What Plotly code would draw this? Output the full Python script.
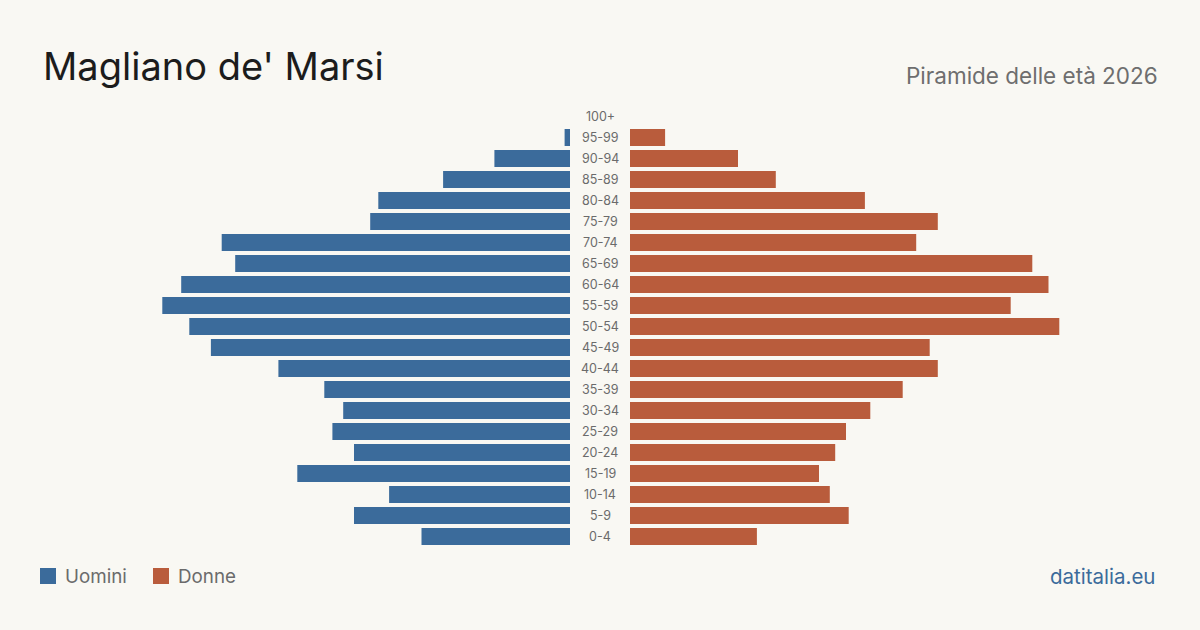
import plotly.graph_objects as go

# Data
age_groups = ["0-4", "5-9", "10-14", "15-19", "20-24", "25-29", "30-34", "35-39",
              "40-44", "45-49", "50-54", "55-59", "60-64", "65-69", "70-74",
              "75-79", "80-84", "85-89", "90-94", "95-99", "100+"]
uomini = [55, 80, 67, 101, 80, 88, 84, 91, 108, 133, 141, 151, 144, 124, 129,
          74, 71, 47, 28, 2, 0]
donne = [47, 81, 74, 70, 76, 80, 89, 101, 114, 111, 159, 141, 155, 149, 106,
         114, 87, 54, 40, 13, 0]

title_text = "Magliano de' Marsi"
subtitle_text = "Piramide delle età 2026"
legend_labels = ["Uomini", "Donne"]
source_text = "datitalia.eu"

BLUE = "#3b6b9b"
ORANGE = "#b95c3c"
BG = "#f9f8f3"
FONT = "Inter, 'Noto Sans', sans-serif"

W, H = 1200, 630
MT, MB = 106, 83
PH = H - MT - MB
scale = 2.7  # px per person
xmax = 570 / scale


def py(ypx):
    """Convert a pixel y (from top of page) to paper coords (plot area)."""
    return (H - MB - ypx) / PH


fig = go.Figure()
fig.add_trace(go.Bar(x=uomini, y=age_groups, orientation="h", marker_color=BLUE,
                     marker_line_width=0,
                     name=legend_labels[0], xaxis="x", yaxis="y", hoverinfo="x+y"))
fig.add_trace(go.Bar(x=donne, y=age_groups, orientation="h", marker_color=ORANGE,
                     marker_line_width=0,
                     name=legend_labels[1], xaxis="x2", yaxis="y", hoverinfo="x+y"))

for a in age_groups:
    fig.add_annotation(x=0.5, xref="paper", y=a, yref="y", text=a, showarrow=False,
                       xanchor="center", yanchor="middle",
                       font=dict(family=FONT, size=12.5, color="#6b6b6b"))

# Title & subtitle
fig.add_annotation(x=41 / W, y=py(66), xref="paper", yref="paper", text=title_text,
                   showarrow=False, xanchor="left", yanchor="middle",
                   font=dict(family=FONT, size=38, color="#1c1c1c"))
fig.add_annotation(x=1160 / W, y=py(76), xref="paper", yref="paper", text=subtitle_text,
                   showarrow=False, xanchor="right", yanchor="middle",
                   font=dict(family=FONT, size=22.5, color="#6e6e6e"))

# Legend
legend_items = [(40, legend_labels[0], BLUE), (153, legend_labels[1], ORANGE)]
for x0, lab, col in legend_items:
    fig.add_shape(type="rect", xref="paper", yref="paper",
                  x0=x0 / W, x1=(x0 + 16) / W, y0=py(584), y1=py(568),
                  fillcolor=col, line_width=0)
    fig.add_annotation(x=(x0 + 23) / W, y=py(576), xref="paper", yref="paper",
                       text=lab, showarrow=False, xanchor="left", yanchor="middle",
                       font=dict(family=FONT, size=18.8, color="#6b6b6b"))

fig.add_annotation(x=1157 / W, y=py(576), xref="paper", yref="paper", text=source_text,
                   showarrow=False, xanchor="right", yanchor="middle",
                   font=dict(family=FONT, size=20.5, color=BLUE))

fig.update_layout(
    width=W, height=H,
    margin=dict(l=0, r=0, t=MT, b=MB),
    paper_bgcolor=BG, plot_bgcolor=BG,
    showlegend=False,
    bargap=4 / 21,
    xaxis=dict(domain=[0, 570 / W], range=[xmax, 0], visible=False, fixedrange=True),
    xaxis2=dict(domain=[630 / W, 1], range=[0, xmax], visible=False, fixedrange=True,
                anchor="y"),
    yaxis=dict(range=[-0.5, 20.5], visible=False, categoryorder="array",
               categoryarray=age_groups, fixedrange=True),
)

fig.write_html("out.html")
